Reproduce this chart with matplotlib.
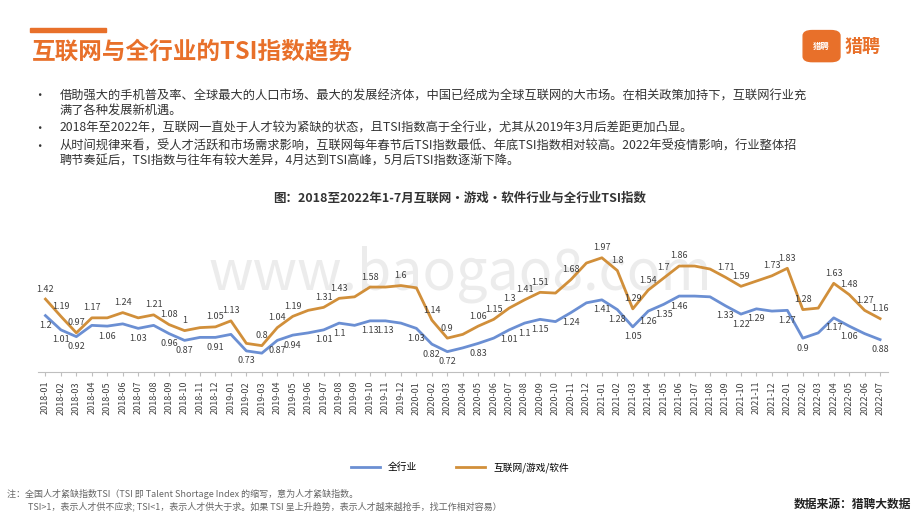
import matplotlib.pyplot as plt
from matplotlib.patches import FancyBboxPatch, Rectangle

plt.rcParams['font.family'] = ['Noto Sans CJK SC', 'DejaVu Sans']

months = [f"{y}-{m:02d}" for y in range(2018, 2023) for m in range(1, 13)][:55]

all_ind = [1.2, 1.01, 0.92, 1.07, 1.06, 1.09, 1.03, 1.07, 0.96, 0.87, 0.91, 0.91,
           0.95, 0.73, 0.70, 0.87, 0.94, 0.97, 1.01, 1.1, 1.07, 1.13, 1.13, 1.1,
           1.03, 0.82, 0.72, 0.77, 0.83, 0.9, 1.01, 1.1, 1.15, 1.12, 1.24, 1.37,
           1.41, 1.28, 1.05, 1.26, 1.35, 1.46, 1.46, 1.45, 1.33, 1.22, 1.29, 1.26,
           1.27, 0.9, 0.97, 1.17, 1.06, 0.96, 0.88]
internet = [1.42, 1.19, 0.97, 1.17, 1.17, 1.24, 1.17, 1.21, 1.08, 1.0, 1.04, 1.05,
            1.13, 0.83, 0.8, 1.04, 1.19, 1.27, 1.31, 1.43, 1.45, 1.58, 1.58, 1.6,
            1.57, 1.14, 0.9, 0.95, 1.06, 1.15, 1.3, 1.41, 1.51, 1.50, 1.68, 1.9,
            1.97, 1.8, 1.29, 1.54, 1.7, 1.86, 1.86, 1.82, 1.71, 1.59, 1.66, 1.73,
            1.83, 1.28, 1.3, 1.63, 1.48, 1.27, 1.16]
# indices whose values are printed on the chart
blue_lab = [0, 1, 2, 4, 6, 8, 9, 11, 13, 15, 16, 18, 19, 21, 22, 24, 25, 26, 28, 30,
            31, 32, 34, 36, 37, 38, 39, 40, 41, 44, 45, 46, 48, 49, 51, 52, 54]
orange_lab = [0, 1, 2, 3, 5, 7, 8, 9, 11, 12, 14, 15, 16, 18, 19, 21, 23, 25, 26, 28,
              29, 30, 31, 32, 34, 36, 37, 38, 39, 40, 41, 44, 45, 47, 48, 49, 51, 52, 53, 54]

ORANGE_T = "#E8702A"
C_ORANGE = "#D18F3A"
C_BLUE = "#6B8FD3"

fig = plt.figure(figsize=(9.2, 5.18), dpi=100)

# header
fig.patches.append(Rectangle((0.033, 0.938), 0.082, 0.007, transform=fig.transFigure, color=ORANGE_T))
fig.text(0.035, 0.900, "互联网与全行业的TSI指数趋势", fontsize=17, fontweight="bold", color=ORANGE_T, va="center")
fig.patches.append(FancyBboxPatch((0.877, 0.885), 0.032, 0.052, boxstyle="round,pad=0.004,rounding_size=0.01",
                                  transform=fig.transFigure, color=ORANGE_T))
fig.text(0.893, 0.911, "猎聘", fontsize=6, color="white", ha="center", va="center", fontweight="bold")
fig.text(0.918, 0.911, "猎聘", fontsize=13, color=ORANGE_T, va="center", fontweight="bold")

bullets = [
    (0.815, "借助强大的手机普及率、全球最大的人口市场、最大的发展经济体，中国已经成为全球互联网的大市场。在相关政策加持下，互联网行业充"),
    (0.786, "满了各种发展新机遇。"),
    (0.752, "2018年至2022年，互联网一直处于人才较为紧缺的状态，且TSI指数高于全行业，尤其从2019年3月后差距更加凸显。"),
    (0.718, "从时间规律来看，受人才活跃和市场需求影响，互联网每年春节后TSI指数最低、年底TSI指数相对较高。2022年受疫情影响，行业整体招"),
    (0.689, "聘节奏延后，TSI指数与往年有较大差异，4月达到TSI高峰，5月后TSI指数逐渐下降。"),
]
for y, t in bullets:
    fig.text(0.065, y, t, fontsize=8.8, color="#333333", va="center")
for y in [0.815, 0.752, 0.718]:
    fig.text(0.036, y, "•", fontsize=8.8, color="#333333", va="center")

fig.text(0.5, 0.618, "图：2018至2022年1-7月互联网·游戏·软件行业与全行业TSI指数", fontsize=9,
         fontweight="bold", color="#333333", ha="center", va="center")

# watermark, drawn behind the chart
wm = fig.add_axes([0, 0, 1, 1], zorder=-1)
wm.axis("off")
wm.text(0.5, 0.47, "www.baogao8.com", fontsize=40, color="#ececec", ha="center", va="center")

ax = fig.add_axes([0.041, 0.282, 0.924, 0.274], zorder=1)
ax.patch.set_alpha(0)
x = list(range(len(months)))
ax.plot(x, internet, color=C_ORANGE, lw=2, label="互联网/游戏/软件")
ax.plot(x, all_ind, color=C_BLUE, lw=2, label="全行业")
for i in orange_lab:
    ax.annotate(f"{internet[i]:g}", (i, internet[i]), xytext=(0, 4), textcoords="offset points",
                ha="center", va="bottom", fontsize=6.5, color="#404040")
for i in blue_lab:
    ax.annotate(f"{all_ind[i]:g}", (i, all_ind[i]), xytext=(0, -4), textcoords="offset points",
                ha="center", va="top", fontsize=6.5, color="#404040")
ax.set_xlim(-0.5, 54.5)
ax.set_ylim(0.45, 2.34)
ax.set_yticks([])
ax.set_xticks(x)
ax.set_xticklabels(months, rotation=90, fontsize=6.5, color="#404040")
ax.tick_params(axis="x", length=3, color="#bfbfbf")
for s in ["top", "right", "left"]:
    ax.spines[s].set_visible(False)
ax.spines["bottom"].set_color("#bfbfbf")

h, l = ax.get_legend_handles_labels()
fig.legend(h[::-1], l[::-1], loc="center", bbox_to_anchor=(0.5, 0.098), ncol=2, frameon=False,
           fontsize=7, handlelength=3, columnspacing=4)

fig.text(0.008, 0.047, "注：全国人才紧缺指数TSI（TSI 即 Talent Shortage Index 的缩写，意为人才紧缺指数。", fontsize=6.5,
         color="#666666", style="italic", va="center")
fig.text(0.030, 0.022, "TSI>1，表示人才供不应求; TSI<1，表示人才供大于求。如果 TSI 呈上升趋势，表示人才越来越抢手，找工作相对容易）",
         fontsize=6.5, color="#666666", style="italic", va="center")
fig.text(0.99, 0.027, "数据来源：猎聘大数据", fontsize=8.5, color="#222222", fontweight="bold", ha="right", va="center")

fig.savefig("out.png", dpi=100)
